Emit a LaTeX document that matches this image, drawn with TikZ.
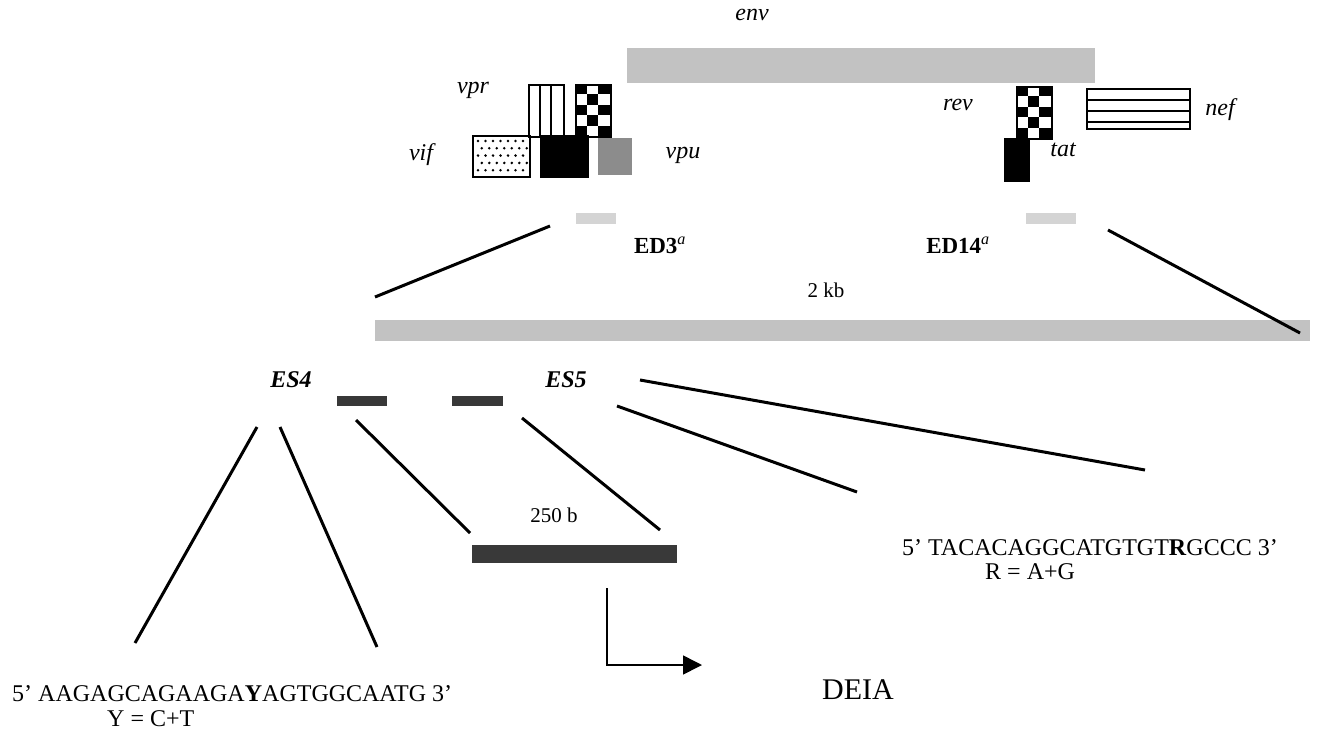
\documentclass[tikz,border=0pt]{standalone}
\usepackage{fontspec}
\setmainfont{Liberation Serif}
\usetikzlibrary{arrows.meta}
\definecolor{lgrey}{gray}{0.76}
\definecolor{mgrey}{gray}{0.55}
\definecolor{dgrey}{gray}{0.22}
\begin{document}
\begin{tikzpicture}[x=1pt,y=-1pt,
  zl/.style={line width=3pt},
  gene/.style={font=\fontsize{24}{26}\selectfont\itshape,inner sep=0pt},
  edlbl/.style={font=\fontsize{23}{25}\selectfont\bfseries,inner sep=0pt},
  eslbl/.style={font=\fontsize{24}{26}\selectfont\bfseries\itshape,inner sep=0pt},
  plain/.style={font=\fontsize{21}{23}\selectfont,inner sep=0pt},
  seq/.style={font=\fontsize{24}{26}\selectfont,inner sep=0pt,anchor=west},
  box/.style={draw=black,line width=1.8pt,inner sep=0pt,anchor=north west},
  gbar/.style={fill=lgrey,inner sep=0pt,anchor=north west}]
\useasboundingbox (0,0) rectangle (1320,734);
\fill[white] (0,0) rectangle (1320,734);

% env
\node[gene] (envt) at (752,15) {env};
\node[gbar,minimum width=468,minimum height=35] (env) at (627,48) {};

% vpr stripes
\node[box,minimum width=35,minimum height=52] (vpr) at (528,84) {};
\draw[line width=1.8pt] (539.7,84) -- (539.7,136) (551.3,84) -- (551.3,136);
\node[gene] (vprt) at (473,90) {vpr};
% checker near vpr
\node[box,minimum width=35,minimum height=52] (vpuchk) at (575,84) {};
\foreach \c in {0,1,2} \foreach \r in {0,...,4} {
  \pgfmathtruncatemacro\p{mod(\c+\r,2)}
  \ifnum\p=0 \fill (575+\c*11.667,84+\r*10.4) rectangle ++(11.667,10.4); \fi}
% vif dotted
\node[box,minimum width=57,minimum height=41] (vif) at (472,135) {};
\foreach \r in {0,...,4} \foreach \c in {0,...,6} {
  \pgfmathsetmacro\xx{478+\c*7.5+mod(\r,2)*3.75}
  \fill (\xx,141+\r*7.3) circle (1.4);}
\node[gene] (vift) at (421,155) {vif};
% black box
\node[box,fill=black,minimum width=47,minimum height=41] (blk) at (540,135) {};
% vpu grey
\node[gbar,fill=mgrey,minimum width=34,minimum height=37] (vpu) at (598,138) {};
\node[gene] (vput) at (683,155) {vpu};

% rev checker
\node[box,minimum width=35,minimum height=52] (rev) at (1016,86) {};
\foreach \c in {0,1,2} \foreach \r in {0,...,4} {
  \pgfmathtruncatemacro\p{mod(\c+\r,2)}
  \ifnum\p=0 \fill (1016+\c*11.667,86+\r*10.4) rectangle ++(11.667,10.4); \fi}
\node[gene] (revt) at (958,105) {rev};
% tat
\node[box,fill=black,minimum width=24,minimum height=42] (tat) at (1004,138) {};
\node[gene] (tatt) at (1063,150) {tat};
% nef stripes
\node[box,minimum width=103,minimum height=40] (nef) at (1086,88) {};
\draw[line width=1.8pt] (1086,100) -- (1189,100) (1086,111) -- (1189,111) (1086,122) -- (1189,122);
\node[gene] (neft) at (1220,110) {nef};

% ED regions
\node[gbar,fill=lgrey!70,minimum width=40,minimum height=11] (ed3) at (576,213) {};
\node[gbar,fill=lgrey!70,minimum width=50,minimum height=11] (ed14) at (1026,213) {};
\node[edlbl] (ed3t) at (660,245) {ED3$^{\mathit{a}}$};
\node[edlbl] (ed14t) at (958,245) {ED14$^{\mathit{a}}$};
\node[plain] (kb) at (826,290) {2 kb};

% big bar
\node[gbar,minimum width=935,minimum height=21] (big) at (375,320) {};
\coordinate (bl) at (375,297);
\coordinate (br) at (1300,333);
\coordinate (ed3e) at (550,226);
\coordinate (ed14e) at (1108,230);
\draw[zl] (bl) -- (ed3e);
\draw[zl] (ed14e) -- (br);

% ES
\node[eslbl] (es4) at (291,380) {ES4};
\node[eslbl] (es5) at (566,380) {ES5};
\node[gbar,fill=dgrey,minimum width=50,minimum height=10] (b1) at (337,396) {};
\node[gbar,fill=dgrey,minimum width=51,minimum height=10] (b2) at (452,396) {};

\coordinate (a1) at (257,427); \coordinate (a2) at (135,643);
\coordinate (c1) at (280,427); \coordinate (c2) at (377,647);
\coordinate (d1) at (356,420); \coordinate (d2) at (470,533);
\coordinate (e1) at (522,418); \coordinate (e2) at (660,530);
\coordinate (f1) at (617,406); \coordinate (f2) at (857,492);
\coordinate (g1) at (640,380); \coordinate (g2) at (1145,470);
\draw[zl] (a1) -- (a2);
\draw[zl] (c1) -- (c2);
\draw[zl] (d1) -- (d2);
\draw[zl] (e1) -- (e2);
\draw[zl] (f1) -- (f2);
\draw[zl] (g1) -- (g2);

\node[plain] (b250) at (554,515) {250 b};
\node[gbar,fill=gray!45!black,minimum width=205,minimum height=18] (prod) at (472,545) {};

% arrow
\coordinate (ar0) at (607,588);
\coordinate (ar1) at (702,665);
\draw[line width=1.6pt,-{Triangle[length=19pt,width=19pt]}] (ar0) |- (ar1);
\node[font=\fontsize{30}{32}\selectfont,inner sep=0pt,anchor=west] (deia) at (822,690) {DEIA};

% sequences
\node[seq] (s5) at (902,548) {5’ TACACAGGCATGTGT\textbf{R}GCCC 3’};
\node[seq] (r5) at (985,572) {R = A+G};
\node[seq] (s4) at (12,694) {5’ AAGAGCAGAAGA\textbf{Y}AGTGGCAATG 3’};
\node[seq] (y4) at (107,719) {Y = C+T};
\end{tikzpicture}
\end{document}
